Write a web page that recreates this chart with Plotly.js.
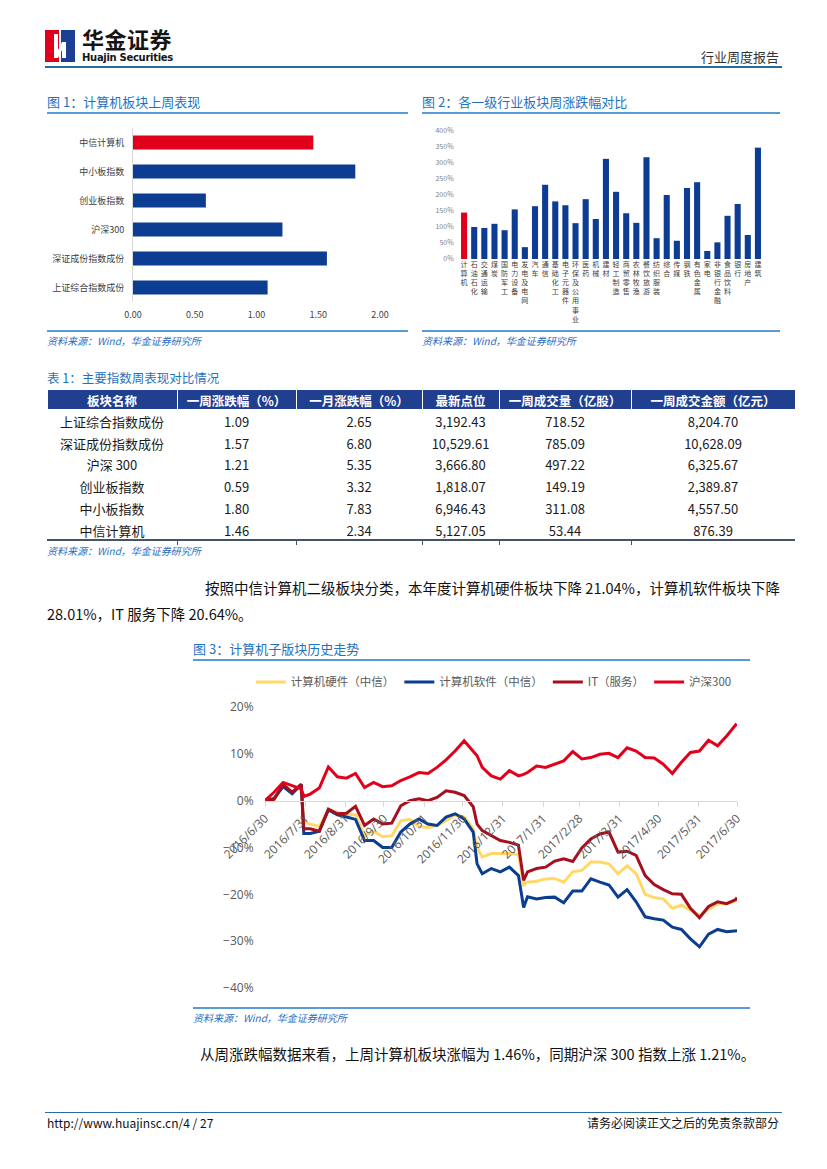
<!DOCTYPE html>
<html><head><meta charset="utf-8">
<script src="https://cdn.plot.ly/plotly-3.0.1.min.js"></script>
<style>
body{margin:0;background:#fff;}
#page{position:relative;width:827px;height:1169px;overflow:hidden;font-family:"Noto Sans CJK SC","Noto Sans",sans-serif;background:#fff;}
.a{position:absolute;white-space:nowrap;}
.ttl{font-size:13px;color:#1f73c1;line-height:16px;}
.src{font-size:10px;color:#2a6cc0;font-style:italic;line-height:12px;}
.hl{position:absolute;height:2px;background:#5b9bd5;}
.para{font-size:14.5px;color:#111;line-height:18px;}
.tk{position:absolute;width:1px;height:4px;background:#44546a;top:541px;}
</style></head>
<body><div id="page">
  <svg class="a" style="left:45px;top:30px" width="30" height="32" viewBox="0 0 30 32">
    <rect x="0" y="0" width="14" height="32" fill="#e0001b"/>
    <rect x="16" y="0" width="14" height="32" fill="#1c3f94"/>
    <polygon points="9,4 13,4 13,20 17,12 21,12 21,28 17,28 17,20 13,28 9,28" fill="#fff"/>
  </svg>
  <div class="a" style="left:82px;top:28px;font-size:22px;font-weight:bold;color:#151515;line-height:21px;letter-spacing:0.5px">华金证券</div>
  <div class="a" style="left:82px;top:52px;font-size:10px;font-weight:bold;color:#151515;line-height:11px;font-family:'DejaVu Sans',sans-serif;letter-spacing:-0.3px">Huajin Securities</div>
  <div class="a" style="right:48px;top:49px;font-size:13px;color:#333;line-height:16px">行业周度报告</div>
  <div class="a" style="left:45px;top:66px;width:737px;height:2px;background:#2b6a9f"></div>

  <div class="a ttl" style="left:47px;top:94px">图 1：计算机板块上周表现</div>
  <div class="hl" style="left:47px;top:112px;width:361px"></div>
  <div id="fig1" class="a" style="left:47px;top:118px;width:363px;height:212px"></div>
  <div class="hl" style="left:47px;top:330px;width:361px"></div>
  <div class="a src" style="left:47px;top:335px">资料来源：Wind，华金证券研究所</div>

  <div class="a ttl" style="left:422px;top:94px">图 2：各一级行业板块周涨跌幅对比</div>
  <div class="hl" style="left:422px;top:112px;width:358px"></div>
  <div id="fig2" class="a" style="left:422px;top:118px;width:360px;height:212px"></div>
  <div class="hl" style="left:422px;top:330px;width:358px"></div>
  <div class="a src" style="left:422px;top:335px">资料来源：Wind，华金证券研究所</div>

  <div class="a ttl" style="left:47px;top:370px;font-size:12.5px">表 1：主要指数周表现对比情况</div>
  <div id="tbl" class="a" style="left:47px;top:389px;width:748px;height:152px"></div>
  <div class="a" style="left:47px;top:539px;width:748px;height:1.5px;background:#44546a"></div>
  <div class="tk" style="left:177px"></div><div class="tk" style="left:296px"></div><div class="tk" style="left:422px"></div>
  <div class="tk" style="left:499px"></div><div class="tk" style="left:631px"></div>
  <div class="a src" style="left:47px;top:545px">资料来源：Wind，华金证券研究所</div>

  <div class="a para" style="left:205px;top:579px;width:575px;text-align:justify;text-align-last:justify">按照中信计算机二级板块分类，本年度计算机硬件板块下降 21.04%，计算机软件板块下降</div>
  <div class="a para" style="left:47px;top:605px">28.01%，IT 服务下降 20.64%。</div>

  <div class="a ttl" style="left:193px;top:641px">图 3：计算机子版块历史走势</div>
  <div class="hl" style="left:193px;top:659px;width:557px"></div>
  <div id="fig3" class="a" style="left:150px;top:665px;width:650px;height:340px"></div>
  <div class="hl" style="left:193px;top:1007px;width:557px"></div>
  <div class="a src" style="left:193px;top:1012px">资料来源：Wind，华金证券研究所</div>

  <div class="a para" style="left:200px;top:1045px">从周涨跌幅数据来看，上周计算机板块涨幅为 1.46%，同期沪深 300 指数上涨 1.21%。</div>

  <div class="a" style="left:45px;top:1112px;width:737px;height:1px;background:#2b6a9f"></div>
  <div class="a" style="left:47px;top:1115px;font-size:12px;color:#111;line-height:15px">http://www.huajinsc.cn/4 / 27</div>
  <div class="a" style="right:48px;top:1115px;font-size:12px;color:#111;line-height:15px">请务必阅读正文之后的免责条款部分</div>
</div>
<script>
// ---------- Figure 1 data ----------
const fig1Categories = ['上证综合指数成份','深证成份指数成份','沪深300','创业板指数','中小板指数','中信计算机'];
const fig1Values = [1.09, 1.57, 1.21, 0.59, 1.80, 1.46];
const fig1Highlight = '中信计算机';

// ---------- Figure 2 data ----------
const fig2Industries = ['计算机','石油石化','交通运输','煤炭','国防军工','电力设备','发电及电网','汽车','通信','基础化工','电子元器件','环保及公用事业','医药','机械','建材','轻工制造','商贸零售','农林牧渔','餐饮旅游','纺织服装','综合','传媒','钢铁','有色金属','家电','非银行金融','食品饮料','银行','房地产','建筑'];
const fig2Values = [145,100,97,110,90,155,37,165,232,180,168,112,187,125,313,210,143,113,318,65,200,57,222,240,25,52,135,172,75,348];
const fig2Highlight = '计算机';

// ---------- Table 1 data ----------
const tableHeaders = ['板块名称','一周涨跌幅（%）','一月涨跌幅（%）','最新点位','一周成交量（亿股）','一周成交金额（亿元）'];
const tableNames = ['上证综合指数成份','深证成份指数成份','沪深 300','创业板指数','中小板指数','中信计算机'];
const tableWeekChange = ['1.09','1.57','1.21','0.59','1.80','1.46'];
const tableMonthChange = ['2.65','6.80','5.35','3.32','7.83','2.34'];
const tableLatest = ['3,192.43','10,529.61','3,666.80','1,818.07','6,946.43','5,127.05'];
const tableVolume = ['718.52','785.09','497.22','149.19','311.08','53.44'];
const tableTurnover = ['8,204.70','10,628.09','6,325.67','2,389.87','4,557.50','876.39'];

// ---------- Figure 3 data ----------
const fig3Dates = ['2016-06-30','2016-07-07','2016-07-14','2016-07-21','2016-07-28','2016-07-30','2016-08-04','2016-08-11','2016-08-18','2016-08-25','2016-09-01','2016-09-08','2016-09-15','2016-09-22','2016-09-29','2016-10-06','2016-10-13','2016-10-20','2016-10-27','2016-11-03','2016-11-10','2016-11-17','2016-11-24','2016-12-01','2016-12-08','2016-12-11','2016-12-15','2016-12-22','2016-12-29','2017-01-05','2017-01-12','2017-01-16','2017-01-19','2017-01-26','2017-02-02','2017-02-09','2017-02-16','2017-02-23','2017-03-02','2017-03-09','2017-03-16','2017-03-23','2017-03-30','2017-04-06','2017-04-13','2017-04-20','2017-04-27','2017-05-04','2017-05-11','2017-05-18','2017-05-25','2017-06-01','2017-06-08','2017-06-15','2017-06-22','2017-06-29','2017-06-30'];
const hardware = [0,0.3,3.2,1.6,3.0,-4.5,-5.0,-5.5,-2.0,-2.5,-3.0,-3.0,-7.5,-6.5,-7.7,-7.5,-4.3,-4.0,-5.5,-5.7,-5.3,-4.3,-3.0,-3.5,-6.0,-10.0,-12.0,-11.3,-11.3,-11.3,-11.5,-18.0,-17.4,-17.2,-16.7,-16.6,-17.4,-15.2,-14.9,-13.1,-13.1,-13.5,-15.6,-13.9,-15.6,-20.0,-20.7,-21.0,-23.0,-22.3,-23.4,-24.5,-23.2,-22.0,-22.0,-21.5,-21.3];
const software = [0,0.5,3.0,1.5,3.5,-7.0,-7.0,-6.5,-2.0,-3.0,-3.5,-4.0,-8.5,-8.5,-10.0,-10.0,-6.7,-5.0,-3.9,-5.0,-5.3,-3.5,-2.8,-3.9,-6.7,-13.5,-15.6,-14.5,-15.2,-14.2,-16.0,-22.8,-20.5,-21.0,-20.7,-20.6,-21.8,-19.3,-19.3,-16.7,-17.4,-18.0,-20.6,-19.0,-21.6,-24.8,-25.2,-25.5,-27.0,-27.5,-29.5,-31.2,-28.5,-27.5,-28.0,-27.7,-27.8];
const itService = [0,0.3,3.5,1.8,3.5,-6.0,-6.0,-6.5,-1.8,-2.8,-2.7,-1.2,-5.3,-3.9,-5.0,-4.8,-1.1,0.0,0.4,0.0,0.7,2.1,1.8,1.1,-1.3,-5.0,-6.4,-7.4,-8.5,-8.9,-9.5,-17.0,-15.2,-14.5,-14.2,-12.9,-12.4,-13.0,-10.1,-8.2,-7.1,-6.7,-11.0,-10.8,-11.7,-16.0,-17.9,-19.0,-19.9,-20.0,-23.0,-25.0,-22.6,-21.6,-22.0,-21.1,-20.7];
const hs300 = [0,1.8,3.9,3.2,2.5,0.9,1.4,2.7,7.2,5.1,4.8,5.8,2.8,3.9,3.0,3.2,4.3,5.1,6.0,5.8,7.1,8.7,10.6,12.8,10.6,9.6,7.1,5.3,4.6,6.4,5.3,5.6,6.0,7.4,7.1,7.8,8.5,10.5,8.9,9.2,9.9,10.1,9.2,11.3,10.6,9.2,9.1,7.8,5.8,8.2,10.3,10.6,12.9,11.7,13.8,16.2,16.0];
const fig3SeriesNames = ['计算机硬件（中信）','计算机软件（中信）','IT（服务）','沪深300'];
const fig3TickDates = ['2016-06-30','2016-07-31','2016-08-31','2016-09-30','2016-10-31','2016-11-30','2016-12-31','2017-01-31','2017-02-28','2017-03-31','2017-04-30','2017-05-31','2017-06-30'];
const fig3TickLabels = ['2016/6/30','2016/7/31','2016/8/31','2016/9/30','2016/10/31','2016/11/30','2016/12/31','2017/1/31','2017/2/28','2017/3/31','2017/4/30','2017/5/31','2017/6/30'];

const CJK = '"Noto Sans CJK SC", "Noto Sans", sans-serif';
const RED = '#e0001b', BLUE = '#0c3d92';
const cfg = {staticPlot:true, displayModeBar:false};

// Figure 1
Plotly.newPlot('fig1', [{
  type:'bar', orientation:'h', y:fig1Categories, x:fig1Values,
  marker:{color:fig1Categories.map(c => c === fig1Highlight ? RED : BLUE)},
  hoverinfo:'none'
}], {
  width:363, height:212, margin:{l:86,r:30,t:10,b:28},
  paper_bgcolor:'rgba(0,0,0,0)', plot_bgcolor:'rgba(0,0,0,0)',
  font:{family:CJK, size:9, color:'#404040'},
  bargap:0.52, showlegend:false,
  xaxis:{range:[0,2], tickvals:[0,0.5,1,1.5,2], tickformat:'.2f', showgrid:false, zeroline:false, showline:false, ticks:'outside', ticklen:4, tickcolor:'rgba(0,0,0,0)', fixedrange:true},
  yaxis:{type:'category', showline:true, linecolor:'#d9d9d9', linewidth:1, ticks:'outside', ticklen:6, tickcolor:'rgba(0,0,0,0)', showgrid:false, zeroline:false, fixedrange:true}
}, cfg);

// Figure 2
Plotly.newPlot('fig2', [{
  type:'bar', x:fig2Industries, y:fig2Values,
  marker:{color:fig2Industries.map(c => c === fig2Highlight ? RED : BLUE)},
  hoverinfo:'none'
}], {
  width:360, height:212, margin:{l:37,r:19,t:13,b:71},
  paper_bgcolor:'rgba(0,0,0,0)', plot_bgcolor:'rgba(0,0,0,0)',
  font:{family:CJK, size:7, color:'#404040'},
  bargap:0.4, showlegend:false,
  xaxis:{type:'category', tickvals:fig2Industries, ticktext:fig2Industries.map(s => s.split('').join('<br>')), tickangle:0, showgrid:false, zeroline:false, showline:false, ticks:'', fixedrange:true},
  yaxis:{range:[0,400], dtick:50, ticksuffix:'%', showgrid:false, zeroline:false, showline:false, ticks:'outside', ticklen:3, tickcolor:'rgba(0,0,0,0)', tickfont:{size:7, color:'#808080'}, fixedrange:true}
}, cfg);

// Table 1
Plotly.newPlot('tbl', [{
  type:'table', columnwidth:[130,119,126,77,132,164],
  header:{values:tableHeaders, align:'center', height:20,
    fill:{color:'#203f8f'}, line:{color:'#ffffff', width:1}, font:{family:CJK, size:12.5, color:'#ffffff', weight:'bold'}},
  cells:{values:[tableNames, tableWeekChange, tableMonthChange, tableLatest, tableVolume, tableTurnover], align:'center', height:21.8,
    fill:{color:'#ffffff'}, line:{color:'#ffffff', width:0}, font:{family:CJK, size:13, color:'#1a1a1a'}}
}], {width:748, height:152, margin:{l:0,r:0,t:0,b:0}, paper_bgcolor:'rgba(0,0,0,0)'}, cfg);

// Figure 3
const fig3Colors = ['#ffd966', '#0b3d91', '#a50f1e', '#e3001b'];
const fig3Series = [hardware, software, itService, hs300];
Plotly.newPlot('fig3', fig3Series.map((s, i) => ({
  type:'scatter', mode:'lines', x:fig3Dates, y:s, name:fig3SeriesNames[i],
  line:{color:fig3Colors[i], width:3}, hoverinfo:'none'
})), {
  width:650, height:340, margin:{l:115,r:63,t:42,b:17, autoexpand:false},
  paper_bgcolor:'rgba(0,0,0,0)', plot_bgcolor:'rgba(0,0,0,0)',
  font:{family:'"Open Sans", "Noto Sans CJK SC", sans-serif', size:12, color:'#595959'},
  showlegend:true,
  legend:{orientation:'h', x:-0.03, xanchor:'left', y:1.089, yanchor:'middle', font:{family:CJK, size:11.5, color:'#595959'}, itemwidth:30, tracegroupgap:0},
  xaxis:{type:'date', range:['2016-06-30','2017-06-30'], anchor:'free', position:0.6667,
    tickvals:fig3TickDates, ticktext:fig3TickLabels, tickangle:-45,
    showline:true, linecolor:'#d9d9d9', linewidth:1, ticks:'outside', ticklen:5, tickcolor:'#d9d9d9',
    showgrid:false, zeroline:false, fixedrange:true},
  yaxis:{range:[-40,20], dtick:10, ticksuffix:'%', showgrid:false, zeroline:false, showline:false,
    ticks:'outside', ticklen:8, tickcolor:'rgba(0,0,0,0)', fixedrange:true}
}, cfg);
</script>
</body></html>
